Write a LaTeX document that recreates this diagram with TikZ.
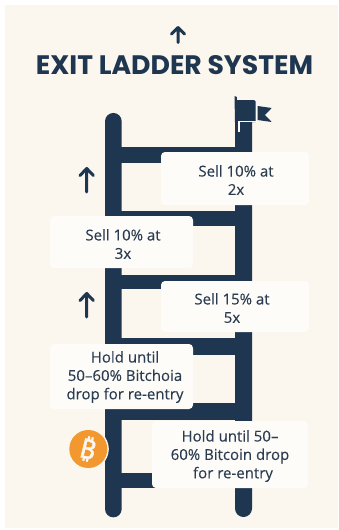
\documentclass[tikz,border=0pt]{standalone}
\usepackage{fontspec}
\setmainfont{Open Sans}[FakeBold=0.25]
\newfontfamily\titlefont{Poppins}
\newfontfamily\symbfont{Noto Sans}[FakeBold=1.6]
\definecolor{navy}{HTML}{1F3650}
\definecolor{ink}{HTML}{2B3D52}
\definecolor{cream}{HTML}{FBF6EE}
\definecolor{card}{HTML}{FEFCF8}
\definecolor{btc}{HTML}{F2982F}
\tikzset{
 x=1pt,y=-1pt,
 railpart/.style={fill=navy,draw=none},
 cardtext/.style={text=ink,font=\fontsize{15}{18.4}\selectfont,align=center,inner sep=0pt},
 arrowup/.style={navy,line width=3pt,line cap=round,line join=round},
}
\begin{document}
\begin{tikzpicture}
\useasboundingbox (0,0) rectangle (338,530);
\fill[white] (0,0) rectangle (338,530);
\fill[cream] (5,5) rectangle (338,528);
% rails
\fill[railpart] (105,121.3) arc[start angle=180,end angle=360,radius=8.35] -- (121.7,509) arc[start angle=0,end angle=180,radius=8.35] -- cycle;
\fill[railpart] (235,118) -- (252,118) -- (252,508.5) arc[start angle=0,end angle=180,radius=8.5] -- cycle;
% rungs
\fill[railpart] (113,146.5) rectangle (243,163);
\fill[railpart] (113,211) rectangle (243,226);
\fill[railpart] (113,275) rectangle (243,289);
\fill[railpart] (113,338) rectangle (243,355);
\fill[railpart] (113,403) rectangle (243,420);
\fill[railpart] (113,473) rectangle (243,488);
% flag
\fill[railpart] (234.5,96) -- (236.8,97) -- (236.8,100) -- (254,100) -- (255.7,101.5) -- (255.7,122) -- (235,122) -- cycle;
\fill[railpart] (257.6,106) -- (271.7,108) -- (265,115) -- (271.7,122) -- (257.6,120) -- cycle;
\draw[card,line width=1.7pt] (239,132) -- (239,121.5) -- (256.5,121.5) -- (256.5,106);
% cards
\fill[card,rounded corners=4pt] (161,152) rectangle (309,205);
\fill[card,rounded corners=4pt] (50,216) rectangle (193,268);
\fill[card,rounded corners=4pt] (161,281) rectangle (309,332);
\fill[card,rounded corners=4pt] (50,344) rectangle (193,409);
\fill[card,rounded corners=4pt] (152,421) rectangle (308,488);
% texts
\node[font=\titlefont\bfseries\fontsize{26.7}{28}\selectfont,text=navy,inner sep=0pt] (title) at (174.5,65) {EXIT LADDER SYSTEM};
\node[cardtext] (s1) at (236,180) {Sell 10\% at\\2x};
\node[cardtext] (s2) at (123,244) {Sell 10\% at\\3x};
\node[cardtext] (s3) at (232,308) {Sell 15\% at\\5x};
\node[cardtext] (s4) at (125,377) {Hold until\\50–60\% Bitchoia\\drop for re-entry};
\node[cardtext] (s5) at (230,456) {Hold until 50–\\60\% Bitcoin drop\\\hspace{6pt}for re-entry};
% arrows
\draw[arrowup] (178,42.5) -- (178,27.5) (171.5,34) -- (178,27.5) -- (184.5,34);
\draw[arrowup] (86.7,192) -- (86.7,168.5) (80,175.5) -- (86.7,168.5) -- (93.4,175.5);
\draw[arrowup] (86.7,317) -- (86.7,293.5) (80,300.5) -- (86.7,293.5) -- (93.4,300.5);
% bitcoin
\fill[cream] (88.3,449) circle (20.5);
\fill[btc] (88.3,449) circle (19);
\node[rotate=-14,text=cream,font=\symbfont\fontsize{27}{27}\selectfont,inner sep=0pt] (b) at (88,449) {₿};
\end{tikzpicture}
\end{document}
